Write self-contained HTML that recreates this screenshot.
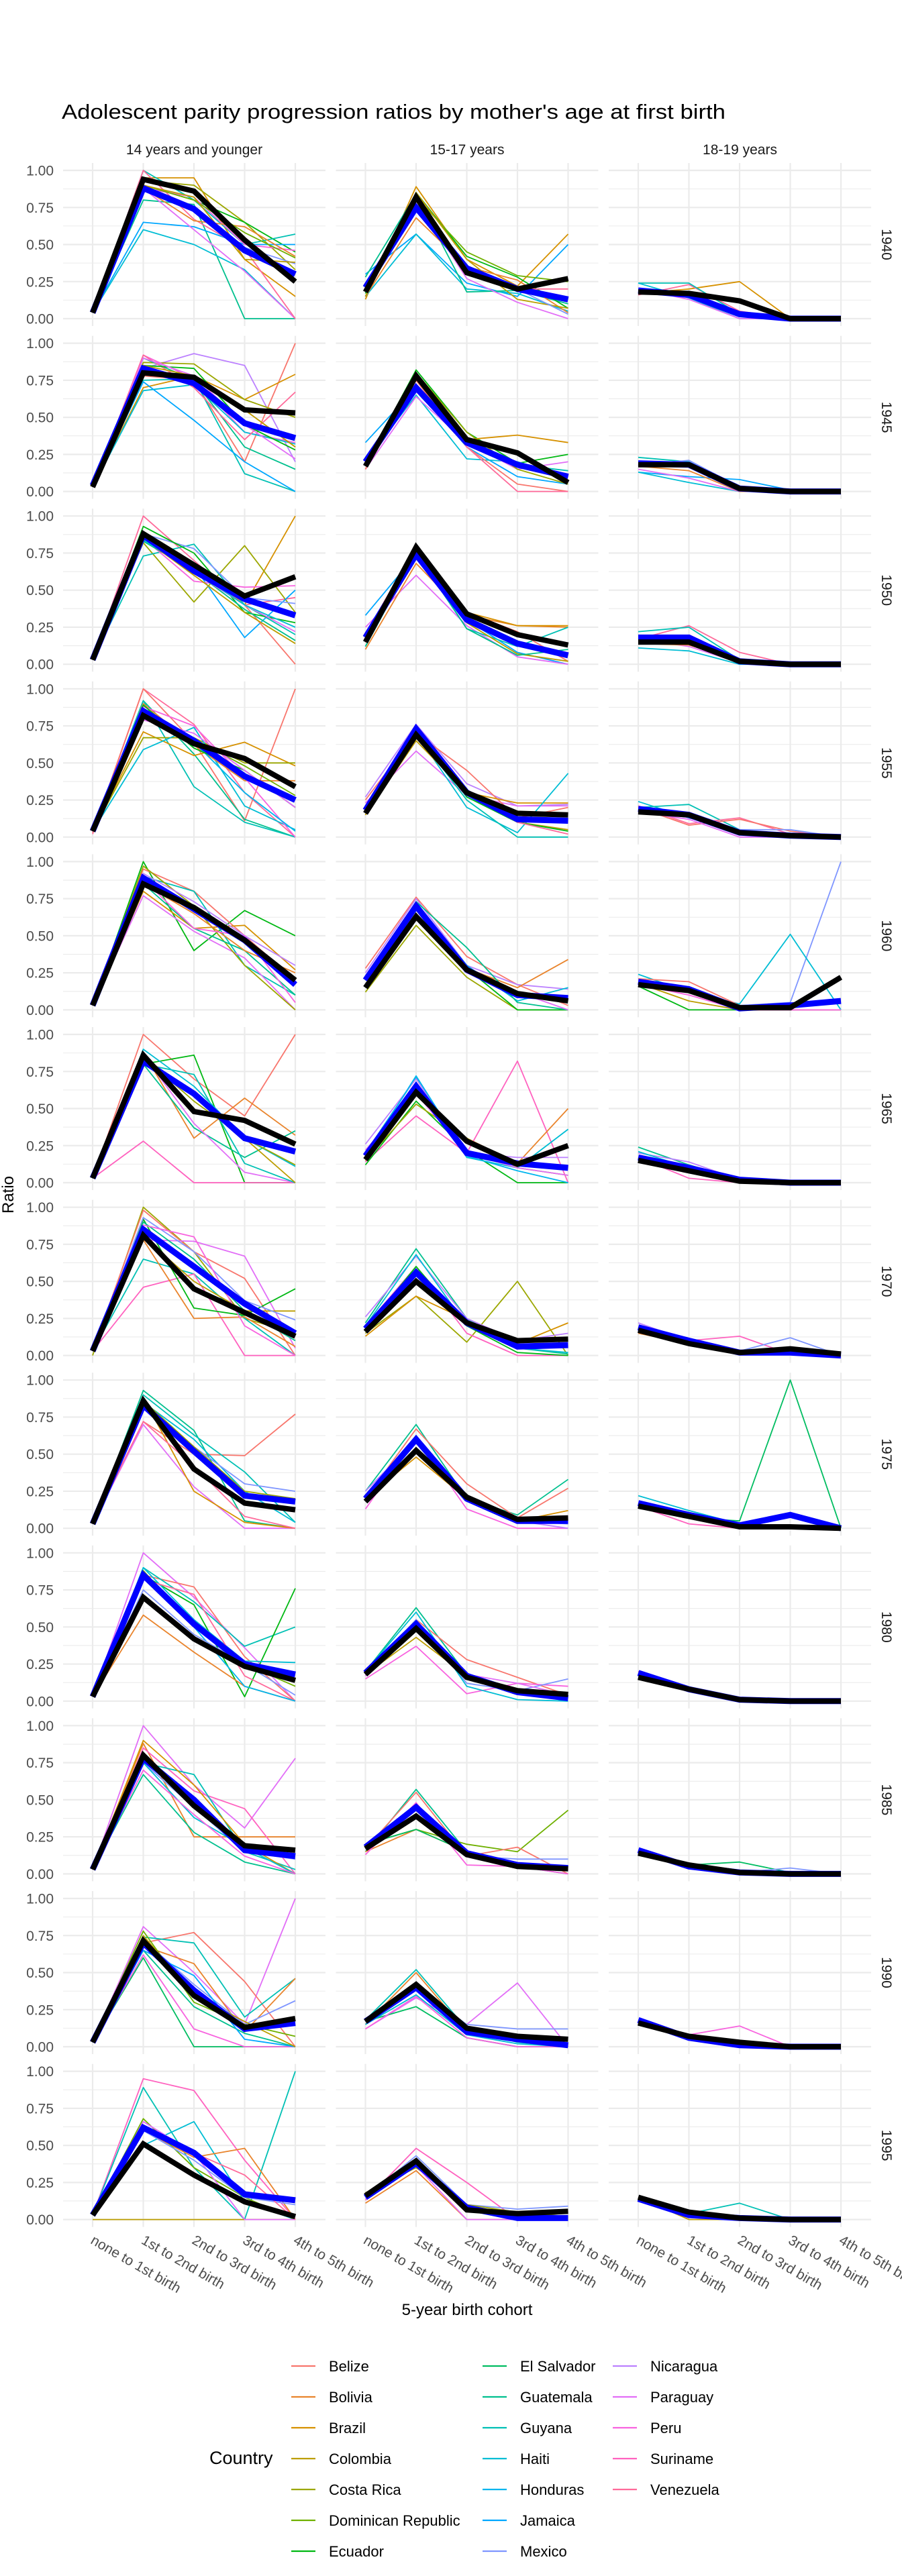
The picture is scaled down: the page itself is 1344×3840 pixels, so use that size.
<!DOCTYPE html>
<html><head><meta charset="utf-8">
<style>
html,body{margin:0;padding:0;background:#fff;}
svg{display:block;font-family:"Liberation Sans",Arial,sans-serif;}
</style></head>
<body>
<svg id="chart" width="1344" height="3840" viewBox="0 0 1344 3840" xmlns="http://www.w3.org/2000/svg">
<text x="92" y="177" font-size="31" fill="#000" textLength="989" lengthAdjust="spacingAndGlyphs">Adolescent parity progression ratios by mother's age at first birth</text>
<text transform="translate(20,1781) rotate(-90)" text-anchor="middle" font-size="24" fill="#000">Ratio</text>
<text x="696" y="3451" text-anchor="middle" font-size="24" fill="#000">5-year birth cohort</text>
<g id="panels"></g>
<g id="legend"></g>
</svg>
<script>
const countries = ["Belize","Bolivia","Brazil","Colombia","Costa Rica","Dominican Republic","Ecuador","El Salvador","Guatemala","Guyana","Haiti","Honduras","Jamaica","Mexico","Nicaragua","Paraguay","Peru","Suriname","Venezuela"];
const categories = ["none to 1st birth","1st to 2nd birth","2nd to 3rd birth","3rd to 4th birth","4th to 5th birth"];
const cohorts = ["1940","1945","1950","1955","1960","1965","1970","1975","1980","1985","1990","1995"];
const ageGroups = ["14 years and younger","15-17 years","18-19 years"];
const yTicks = [0,0.25,0.5,0.75,1];
const yTickLabels = ["0.00","0.25","0.50","0.75","1.00"];

const blackSeries = [
[.04,.94,.86,.53,.25],[.18,.82,.31,.20,.27],[.18,.17,.12,0,0],
[.03,.80,.77,.55,.53],[.17,.78,.35,.26,.06],[.18,.18,.02,0,0],
[.03,.88,.67,.46,.59],[.15,.79,.34,.20,.13],[.15,.15,.02,0,0],
[.04,.82,.63,.53,.34],[.16,.69,.30,.16,.15],[.17,.15,.03,.01,0],
[.03,.85,.69,.47,.20],[.15,.63,.27,.11,.06],[.17,.13,.015,.015,.22],
[.03,.86,.48,.42,.26],[.155,.61,.28,.125,.25],[.15,.08,.01,0,0],
[.03,.81,.45,.29,.13],[.16,.50,.22,.10,.11],[.17,.08,.02,.045,.01],
[.03,.86,.40,.17,.125],[.18,.525,.21,.06,.07],[.15,.08,.01,.01,0],
[.03,.70,.42,.235,.14],[.18,.49,.16,.07,.045],[.16,.08,.01,0,0],
[.03,.80,.46,.19,.16],[.17,.39,.13,.05,.035],[.14,.06,.01,0,0],
[.03,.715,.345,.13,.19],[.17,.42,.125,.07,.05],[.16,.07,.03,0,0],
[.03,.51,.30,.12,.02],[.16,.395,.065,.04,.055],[.15,.05,.01,0,0]
];
const blueSeries = [
[.04,.88,.74,.46,.30],[.21,.75,.34,.20,.13],[.19,.16,.03,0,0],
[.04,.83,.73,.46,.36],[.20,.70,.33,.18,.10],[.19,.18,.02,0,0],
[.03,.87,.63,.44,.33],[.18,.74,.30,.14,.06],[.18,.18,.02,0,0],
[.04,.85,.65,.41,.25],[.18,.73,.30,.12,.11],[.19,.15,.03,.01,0],
[.03,.89,.68,.47,.17],[.20,.70,.27,.10,.08],[.19,.14,.01,.03,.06],
[.03,.82,.60,.30,.21],[.18,.65,.20,.13,.10],[.17,.10,.02,0,0],
[.03,.85,.60,.35,.15],[.18,.56,.22,.06,.07],[.19,.10,.02,.02,0],
[.03,.83,.52,.22,.18],[.20,.60,.20,.05,.05],[.17,.09,.02,.09,0],
[.03,.85,.52,.25,.18],[.19,.52,.17,.06,.02],[.19,.08,.01,0,0],
[.03,.78,.50,.16,.12],[.18,.45,.14,.06,.04],[.16,.05,.01,0,0],
[.03,.70,.38,.12,.16],[.17,.40,.10,.05,.01],[.18,.06,.01,0,0],
[.03,.62,.45,.17,.13],[.15,.38,.08,.01,.01],[.14,.03,.01,0,0]
];
const countrySeries = [
[[2,.04,.95,.95,.40,.15],[4,.04,.93,.90,.65,.33],[6,.04,.90,.80,.65,.45],[9,.04,1.0,.80,.50,.57],[8,.04,.80,.77,0,0],[12,.04,.65,.62,.50,.50],[10,.04,.60,.50,.33,0],[15,.04,.88,.60,.32,0],[18,.04,1.0,.67,.47,0],[16,.04,.88,.82,.50,.46],[1,.04,.88,.66,.62,.42],[13,.04,.88,.75,.48,.37],[5,.04,.90,.80,.58,.41],[3,.04,.90,.82,.40,.38]],
[[2,.13,.89,.40,.22,.57],[12,.30,.57,.24,.15,.50],[10,.15,.57,.20,.17,.05],[8,.28,.84,.18,.19,.10],[6,.17,.85,.42,.28,.07],[5,.20,.82,.45,.29,.25],[18,.20,.80,.35,.20,.20],[15,.15,.80,.27,.11,0],[1,.15,.68,.35,.26,.04],[3,.15,.85,.40,.13,.07],[13,.20,.75,.30,.20,.03]],
[[2,.17,.20,.25,0,0],[18,.16,.23,.05,0,0],[9,.24,.24,.03,0,0],[10,.24,.14,0,0,0],[15,.20,.13,0,0,0]],
[[14,.03,.83,.93,.85,.20],[0,.03,.78,.75,.20,1.0],[2,.03,.70,.78,.62,.79],[4,.03,.87,.86,.62,.50],[16,.03,.92,.76,.40,.33],[10,.03,.68,.72,.40,.32],[8,.03,.90,.75,.30,.15],[9,.03,.75,.76,.12,0],[12,.03,.74,.48,.20,0],[18,.03,.92,.70,.35,.67],[6,.03,.85,.83,.45,.28],[1,.03,.80,.75,.55,.30],[15,.03,.90,.78,.45,.22],[3,.03,.85,.78,.55,.30]],
[[6,.18,.82,.40,.19,.25],[2,.15,.80,.35,.38,.33],[12,.33,.70,.30,.10,.05],[10,.20,.65,.22,.20,.10],[15,.15,.64,.33,.15,.20],[0,.15,.75,.30,.05,0],[18,.18,.78,.30,0,0],[9,.20,.70,.36,.18,.14],[4,.18,.80,.40,.15,.05]],
[[9,.23,.20,.03,0,0],[13,.18,.21,.03,0,0],[12,.13,.10,.08,.01,0],[10,.13,.06,0,0,0],[15,.15,.09,0,0,0],[1,.17,.14,0,0,0]],
[[18,.03,1.0,.70,.40,.45],[2,.03,.85,.68,.40,1.0],[4,.03,.82,.42,.80,.35],[9,.03,.73,.81,.40,.20],[12,.03,.85,.66,.18,.50],[13,.03,.88,.78,.45,.41],[16,.03,.85,.56,.52,.53],[6,.03,.93,.75,.35,.28],[0,.03,.88,.65,.40,0],[8,.03,.83,.63,.37,.16],[3,.03,.85,.60,.35,.14],[15,.03,.88,.62,.40,.22],[10,.03,.84,.63,.40,.25]],
[[12,.33,.74,.30,.08,0],[15,.25,.60,.26,.05,0],[1,.10,.68,.33,.26,.25],[2,.15,.72,.35,.26,.26],[9,.12,.75,.24,.12,.25],[0,.20,.80,.35,.22,.02],[3,.15,.78,.28,.07,.02],[8,.12,.76,.24,.06,.10]],
[[18,.17,.26,.08,0,0],[9,.22,.25,.03,0,0],[10,.11,.09,0,0,0],[15,.17,.12,.01,0,0],[1,.14,.13,.03,0,0]],
[[18,.02,1.0,.76,.30,0],[0,.03,1.0,.64,.11,1.0],[8,.04,.92,.56,.12,0],[9,.04,.92,.34,.10,0],[2,.04,.71,.55,.64,.48],[4,.04,.67,.67,.50,.50],[10,.04,.59,.74,.21,.05],[1,.04,.90,.62,.38,.38],[16,.04,.88,.75,.40,0],[5,.04,.85,.66,.48,.28],[11,.04,.86,.64,.30,.04],[6,.04,.89,.60,.45,.20],[15,.04,.79,.70,.45,.20]],
[[14,.27,.76,.36,.21,.22],[15,.23,.58,.28,.21,.21],[0,.25,.70,.45,.13,.20],[2,.15,.70,.30,.23,.23],[10,.20,.70,.20,.03,.43],[9,.20,.70,.25,0,0],[3,.15,.65,.30,.10,.05],[6,.18,.72,.27,.10,.04],[18,.18,.72,.30,.10,.02]],
[[10,.24,.13,.04,.02,0],[9,.20,.22,.05,0,0],[18,.21,.09,.13,.02,0],[0,.20,.08,.12,.04,0],[13,.18,.15,.05,.05,0],[15,.17,.12,0,0,0]],
[[6,.03,1.0,.40,.67,.50],[0,.03,.95,.80,.50,.20],[9,.03,.90,.80,.30,.10],[2,.03,.80,.55,.57,.27],[15,.03,.77,.53,.35,0],[4,.03,.97,.70,.30,0],[14,.03,.92,.73,.50,.30],[8,.03,.85,.55,.40,.10],[1,.03,.85,.65,.40,.25],[16,.03,.88,.55,.50,.05]],
[[0,.28,.76,.36,.17,.03],[14,.25,.75,.30,.17,.14],[1,.16,.65,.28,.15,.34],[4,.12,.57,.22,0,0],[6,.20,.72,.28,0,0],[10,.15,.72,.30,.06,.15],[8,.20,.73,.42,.05,0],[15,.22,.70,.25,.12,0]],
[[13,.20,.15,.03,.05,1.0],[10,.24,.12,.04,.51,0],[0,.21,.19,.03,0,0],[6,.16,0,0,0,0],[3,.18,.06,0,0,0],[15,.20,.15,0,0,0],[16,.17,.10,0,0,0]],
[[0,.03,1.0,.70,.45,1.0],[1,.03,.88,.30,.57,.32],[6,.03,.80,.86,0,0],[17,.03,.28,0,0,0],[8,.03,.80,.37,.17,.35],[15,.03,.86,.40,.07,0],[9,.03,.80,.73,.13,0],[10,.03,.90,.65,.30,.11],[3,.03,.85,.60,.30,0],[4,.03,.85,.55,.30,.12]],
[[17,.14,.45,.20,.82,0],[1,.16,.60,.30,.13,.50],[10,.20,.71,.17,.10,.36],[14,.26,.70,.20,.17,.17],[6,.12,.55,.22,0,0],[4,.15,.53,.30,.10,.05],[11,.18,.72,.18,.08,0],[15,.22,.60,.20,.10,.05]],
[[8,.24,.12,.02,0,0],[17,.17,.03,0,0,0],[14,.20,.14,.02,0,0],[10,.21,.10,.03,0,0]],
[[4,0,1.0,.70,.25,.15],[0,.03,.98,.70,.52,0],[15,.03,.78,.77,.67,.05],[9,.03,.65,.55,.25,0],[17,.03,.46,.55,0,0],[1,.03,.78,.25,.26,.06],[6,.03,.92,.32,.27,.45],[3,.03,.80,.50,.30,.30],[13,.03,.93,.70,.37,.24],[8,.03,.90,.65,.30,.10],[16,.03,.88,.80,.20,0]],
[[4,.15,.40,.09,.50,0],[2,.13,.40,.24,.08,.22],[8,.22,.72,.25,.05,.01],[14,.26,.67,.25,.10,.15],[10,.20,.68,.20,.05,.02],[17,.20,.60,.15,0,0],[6,.18,.60,.20,.02,0]],
[[17,.18,.10,.13,.01,0],[13,.19,.09,.03,.12,0],[14,.22,.10,.03,.02,0],[1,.15,.08,.03,.02,0]],
[[0,.03,.72,.50,.49,.77],[8,.03,.93,.66,.05,0],[9,.03,.90,.63,.38,.04],[15,.03,.70,.28,0,0],[2,.03,.88,.25,.04,0],[18,.03,.72,.42,.08,0],[10,.03,.85,.60,.25,.04],[13,.03,.85,.55,.30,.25],[4,.03,.86,.55,.25,.20]],
[[8,.25,.70,.20,.09,.33],[0,.20,.67,.30,.07,.27],[16,.13,.62,.13,0,0],[2,.20,.48,.20,.05,.12],[14,.25,.60,.20,.05,0],[13,.20,.60,.20,.05,.03]],
[[7,.15,.07,.05,1.0,0],[17,.15,.03,0,0,0],[10,.22,.12,.03,0,0]],
[[15,.03,1.0,.70,.36,0],[0,.03,.85,.77,.30,0],[9,.03,.90,.67,.37,.50],[6,.03,.85,.65,.03,.76],[1,.03,.58,.33,.10,0],[10,.03,.90,.55,.27,.26],[18,.03,.82,.72,.17,0],[11,.03,.87,.50,.10,0],[13,.03,.75,.45,.25,.04],[5,.03,.88,.50,.25,.10]],
[[8,.20,.63,.18,.06,0],[0,.18,.55,.28,.16,.04],[16,.15,.37,.05,.12,.10],[13,.17,.55,.12,.07,.15],[3,.18,.43,.17,.06,.03],[15,.17,.53,.18,.12,.04],[10,.20,.60,.10,.01,0]],
[[0,.20,.07,0,0,0]],
[[15,.03,1.0,.60,.31,.78],[1,.03,.88,.25,.25,.25],[17,.03,.85,.56,.44,0],[9,.03,.75,.67,.15,.03],[8,.03,.67,.28,.08,0],[2,.03,.90,.60,.20,0],[13,.03,.75,.45,.15,.10],[10,.03,.75,.38,.18,0],[16,.03,.70,.40,.12,0]],
[[8,.15,.57,.15,.05,0],[5,.20,.30,.20,.15,.43],[0,.17,.55,.12,.18,0],[13,.17,.45,.12,.10,.10],[1,.15,.30,.15,.05,.03],[16,.13,.48,.06,.05,0],[7,.20,.30,.15,.07,.03]],
[[7,.14,.06,.08,.01,0],[13,.15,.05,.01,.04,0]],
[[15,.03,.81,.50,.15,1.0],[0,.03,.70,.77,.44,0],[9,.03,.74,.70,.20,.46],[1,.03,.68,.56,.10,.46],[7,.03,.60,0,0,0],[16,.03,.62,.12,0,0],[13,.03,.72,.42,.15,.31],[5,.03,.78,.30,.15,.07],[8,.03,.65,.27,.09,0],[12,.03,.65,.48,.05,0],[3,.03,.75,.35,.17,0]],
[[15,.12,.33,.15,.43,0],[9,.18,.52,.12,.03,0],[7,.17,.27,.06,0,0],[13,.15,.40,.15,.12,.12],[1,.15,.50,.10,.05,.02],[16,.12,.34,.06,0,0],[10,.15,.35,.08,.02,0]],
[[16,.16,.08,.14,0,0]],
[[17,.03,.95,.87,.40,0],[9,.03,.89,.35,0,1.0],[10,.03,.50,.66,.12,0],[1,.03,.60,.42,.48,0],[3,0,0,0,0,0],[5,.03,.68,.35,.15,0],[15,.03,.66,.45,0,0],[13,.03,.60,.40,.15,.10],[18,.03,.63,.45,.30,0]],
[[17,.13,.48,.25,0,0],[1,.11,.33,0,0,0],[13,.15,.43,.10,.07,.09],[4,.18,.35,.10,.05,.02],[15,.14,.36,0,0,0]],
[[9,.14,.04,.11,0,0],[3,.15,0,0,0,0]]
];

const NS = "http://www.w3.org/2000/svg";
function mk(tag, attrs, parent){ const e=document.createElementNS(NS,tag); for(const k in attrs) e.setAttribute(k,attrs[k]); parent.appendChild(e); return e; }

function hcl(h){
  const L=65,C=100, hr=h*Math.PI/180;
  const Xn=95.047,Yn=100,Zn=108.883;
  const un=4*Xn/(Xn+15*Yn+3*Zn), vn=9*Yn/(Xn+15*Yn+3*Zn);
  const u=C*Math.cos(hr), v=C*Math.sin(hr);
  const Y=Yn*Math.pow((L+16)/116,3);
  const up=u/(13*L)+un, vp=v/(13*L)+vn;
  const X=Y*9*up/(4*vp), Z=Y*(12-3*up-20*vp)/(4*vp);
  const x=X/100,y=Y/100,z=Z/100;
  let r=3.2406*x-1.5372*y-0.4986*z, g=-0.9689*x+1.8758*y+0.0415*z, b=0.0557*x-0.2040*y+1.0570*z;
  const gm=c=>{c=c<=0.0031308?12.92*c:1.055*Math.pow(c,1/2.4)-0.055; return Math.round(Math.max(0,Math.min(1,c))*255);};
  return "rgb("+gm(r)+","+gm(g)+","+gm(b)+")";
}
const colors = countries.map((c,i)=>hcl(15+i*360/19));

const panelLeft = 94, panelPitch = 406.5, panelW = 391;
const rowBase = 475, rowPitch = 257.6, yScale = 221;
function xPos(col, j){ return panelLeft + col*panelPitch + 44 + j*75.5; }
function yPos(row, v){ return rowBase + row*rowPitch - v*yScale; }

const root = document.getElementById("panels");
function linePath(row,col,vals){ return vals.map((v,j)=>(j?"L":"M")+xPos(col,j).toFixed(1)+","+yPos(row,v).toFixed(1)).join(" "); }

for(let r=0;r<cohorts.length;r++){
  for(let c=0;c<ageGroups.length;c++){
    const idx=r*3+c;
    const g=mk("g",{},root);
    
    
    const x0=panelLeft+c*panelPitch, top=yPos(r,1)-11, bot=yPos(r,0)+11;
    for(let k=0;k<4;k++){
      const yy=yPos(r,0.125+k*0.25);
      mk("line",{x1:x0,x2:x0+panelW,y1:yy,y2:yy,stroke:"#EBEBEB","stroke-width":1.1},g);
    }
    yTicks.forEach(t=>{
      const yy=yPos(r,t);
      mk("line",{x1:x0,x2:x0+panelW,y1:yy,y2:yy,stroke:"#EBEBEB","stroke-width":2.2},g);
    });
    categories.forEach((cat,j)=>{
      mk("line",{x1:xPos(c,j),x2:xPos(c,j),y1:top,y2:bot,stroke:"#EBEBEB","stroke-width":2.2},g);
    });
    countrySeries[idx].forEach(s=>{
      const p=mk("path",{d:linePath(r,c,s.slice(1)),fill:"none",stroke:colors[s[0]],"stroke-width":1.8,"stroke-linejoin":"round"},g);
      
      
    });
    const bl=mk("path",{d:linePath(r,c,blueSeries[idx]),fill:"none",stroke:"#0000FF","stroke-width":9,"stroke-linejoin":"miter"},g);
    
    
    const bk=mk("path",{d:linePath(r,c,blackSeries[idx]),fill:"none",stroke:"#000","stroke-width":8,"stroke-linejoin":"miter"},g);
    
    
    if(c===0){
      yTicks.forEach((t,k)=>{
        const tx=mk("text",{x:80,y:yPos(r,t)+7.5,"text-anchor":"end","font-size":21,fill:"#4D4D4D"},g);
        tx.textContent=yTickLabels[k];
        
        
      });
    }
    if(r===0){
      const st=mk("text",{x:x0+panelW/2,y:230,"text-anchor":"middle","font-size":21,fill:"#1A1A1A"},g);
      st.textContent=ageGroups[c];
      
      
    }
    if(c===2){
      const cy=(yPos(r,0)+yPos(r,1))/2;
      const st=mk("text",{transform:"translate(1314,"+cy+") rotate(90)","text-anchor":"middle","font-size":21,fill:"#1A1A1A"},g);
      st.textContent=cohorts[r];
      
      
    }
    if(r===cohorts.length-1){
      categories.forEach((cat,j)=>{
        const tx=mk("text",{transform:"translate("+(xPos(c,j)+3)+",3331) rotate(30)","font-size":21,fill:"#4D4D4D","dominant-baseline":"hanging"},g);
        tx.textContent=cat;
        
        
      });
    }
  }
}

const lg=document.getElementById("legend");
const lt=mk("text",{x:312,y:3673,"font-size":27,fill:"#000"},lg);
lt.textContent="Country";


const colKeyX=[434,719,913];
countries.forEach((name,i)=>{
  const col=i<7?0:(i<14?1:2), row=i<7?i:(i<14?i-7:i-14);
  const yy=3527+row*46;
  const g=mk("g",{},lg);
  
  
  mk("line",{x1:colKeyX[col],x2:colKeyX[col]+36,y1:yy,y2:yy,stroke:colors[i],"stroke-width":2.2},g);
  const t=mk("text",{x:colKeyX[col]+56,y:yy+8,"font-size":22,fill:"#000"},g);
  t.textContent=name;
});
</script>
</body></html>
